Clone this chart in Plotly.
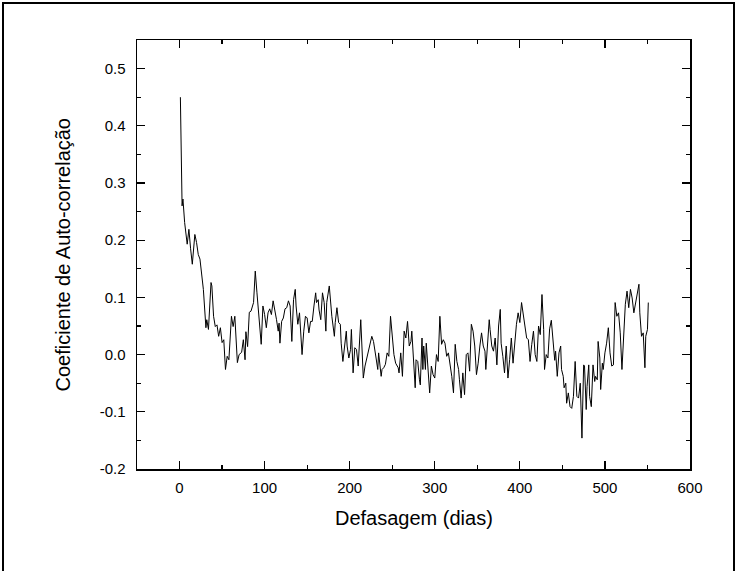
import plotly.graph_objects as go

# Lag (days) and autocorrelation coefficient
lag = [1, 2, 3, 4, 6, 9, 11, 13, 15, 18, 20, 22, 24, 28, 31, 32, 34, 37, 38, 40,
       42, 44, 46, 48, 50, 52, 54, 56, 58, 61, 63, 65, 68, 70, 73, 75, 77, 78, 80, 82,
       84, 87, 89, 91, 93, 96, 98, 100, 102, 104, 106, 108, 110, 112, 114, 116, 117, 118, 120, 122,
       124, 126, 128, 130, 132, 134, 136, 137, 139, 141, 143, 144, 146, 148, 150, 152, 154, 156, 158, 160,
       161, 163, 164, 166, 168, 170, 172, 173, 176, 178, 179, 182, 183, 185, 187, 189, 190, 192, 194, 196,
       197, 199, 201, 202, 204, 206, 208, 210, 213, 215, 216, 218, 220, 222, 224, 226, 228, 229, 231, 233,
       234, 237, 238, 240, 242, 244, 246, 248, 250, 252, 254, 257, 258, 260, 262, 264, 266, 268, 270, 272,
       273, 275, 277, 278, 280, 282, 283, 285, 286, 287, 289, 290, 292, 294, 296, 298, 300, 302, 304, 306,
       308, 310, 312, 314, 316, 318, 320, 322, 324, 326, 328, 329, 331, 333, 335, 337, 339, 341, 343, 345,
       347, 349, 351, 353, 355, 357, 359, 360, 362, 364, 365, 367, 369, 371, 373, 375, 377, 378, 380, 382,
       384, 385, 386, 388, 390, 392, 394, 396, 398, 400, 402, 404, 406, 408, 410, 412, 414, 416, 418, 420,
       422, 424, 426, 428, 429, 431, 433, 435, 437, 439, 441, 442, 444, 446, 448, 449, 451, 452, 454, 455,
       457, 459, 461, 463, 465, 467, 469, 471, 473, 475, 476, 478, 479, 481, 482, 484, 486, 488, 489, 491,
       492, 494, 495, 497, 498, 500, 502, 504, 506, 508, 510, 512, 514, 516, 518, 520, 522, 524, 526, 528,
       530, 532, 534, 536, 538, 540, 541, 543, 545, 547, 548, 550, 551]

acf = [0.450, 0.289, 0.260, 0.272, 0.231, 0.193, 0.219, 0.185, 0.158, 0.210, 0.196, 0.175, 0.167, 0.114, 0.047, 0.061, 0.044, 0.126, 0.120, 0.067,
       0.049, 0.052, 0.032, 0.047, 0.021, 0.026, -0.026, -0.003, -0.009, 0.067, 0.049, 0.067, -0.014, 0.000, 0.004, 0.026, -0.009, 0.040, 0.014, 0.074,
       0.076, 0.091, 0.146, 0.108, 0.070, 0.018, 0.085, 0.070, 0.047, 0.073, 0.080, 0.070, 0.094, 0.073, 0.061, 0.041, 0.055, 0.020, 0.058, 0.064,
       0.080, 0.082, 0.094, 0.085, 0.023, 0.096, 0.114, 0.085, 0.053, 0.073, 0.032, 0.000, 0.041, 0.067, 0.064, 0.038, 0.058, 0.058, 0.085, 0.108,
       0.091, 0.096, 0.078, 0.061, 0.108, 0.091, 0.041, 0.091, 0.120, 0.073, 0.067, 0.032, 0.056, 0.082, 0.056, 0.053, 0.020, -0.012, 0.015, 0.041,
       0.015, -0.006, 0.009, 0.044, -0.032, 0.012, 0.009, -0.020, 0.061, -0.003, -0.041, -0.020, -0.006, 0.003, 0.018, 0.032, 0.023, 0.015, -0.006, -0.026,
       0.003, -0.038, -0.026, -0.023, -0.017, 0.003, -0.003, 0.067, 0.038, 0.000, -0.015, -0.023, -0.032, 0.003, -0.038, 0.041, 0.029, 0.058, 0.015, 0.023,
       0.041, -0.015, -0.058, -0.009, -0.012, -0.044, -0.053, 0.029, -0.026, 0.015, -0.026, 0.020, -0.020, -0.067, -0.020, -0.035, -0.041, 0.000, -0.012, 0.067,
       0.018, 0.026, 0.020, -0.003, 0.003, -0.015, -0.038, -0.067, 0.018, -0.012, -0.026, -0.044, -0.076, -0.032, -0.070, 0.000, 0.003, -0.029, 0.053, 0.041,
       0.015, -0.035, -0.015, 0.015, 0.038, 0.015, 0.006, -0.026, 0.029, 0.061, 0.044, 0.015, 0.006, 0.029, -0.018, 0.050, 0.079, 0.020, -0.003, -0.032,
       0.015, -0.015, -0.041, -0.009, 0.029, -0.015, 0.026, 0.053, 0.073, 0.056, 0.091, 0.067, 0.053, 0.029, 0.026, -0.012, 0.018, 0.041, 0.000, -0.012,
       0.050, 0.035, 0.105, 0.044, -0.026, 0.000, -0.006, 0.045, 0.060, 0.020, -0.010, 0.006, -0.038, 0.003, 0.015, -0.026, -0.038, -0.058, -0.050, -0.085,
       -0.067, -0.091, -0.094, -0.073, -0.012, -0.073, -0.076, -0.050, -0.146, -0.018, -0.020, -0.096, -0.056, -0.018, -0.073, -0.091, -0.018, -0.047, -0.038, -0.044,
       0.023, -0.006, -0.061, -0.015, -0.026, 0.003, 0.020, 0.047, 0.003, -0.020, -0.018, 0.091, 0.067, 0.073, 0.038, -0.026, 0.032, 0.088, 0.111, 0.082,
       0.114, 0.099, 0.073, 0.091, 0.102, 0.123, 0.073, 0.032, 0.038, -0.023, 0.032, 0.044, 0.091]

x_ticks = [0, 100, 200, 300, 400, 500, 600]
y_ticks = [-0.2, -0.1, 0.0, 0.1, 0.2, 0.3, 0.4, 0.5]
y_ticklabels = ["-0.2", "-0.1", "0.0", "0.1", "0.2", "0.3", "0.4", "0.5"]

W, H = 737, 571
L, R, T, B = 137, 47, 40, 102
pw, ph = W - L - R, H - T - B
FONT = "Liberation Sans, Arial, sans-serif"

fig = go.Figure()
fig.add_trace(go.Scatter(x=lag, y=acf, mode="lines",
                         line=dict(color="black", width=1), showlegend=False))

axis_common = dict(showline=True, linecolor="black", linewidth=1.5, mirror="ticks",
                   ticks="inside", ticklen=8, tickwidth=1.2, tickcolor="black",
                   showgrid=False, zeroline=False,
                   tickfont=dict(family=FONT, size=15, color="black"))

fig.update_xaxes(range=[-50, 600], tickvals=x_ticks, ticklabelstandoff=4,
                 minor=dict(ticks="inside", ticklen=4, dtick=50, tick0=0,
                            tickcolor="black", tickwidth=1.2),
                 **axis_common)
fig.update_yaxes(range=[-0.2, 0.55], tickvals=y_ticks, ticktext=y_ticklabels,
                 ticklabelstandoff=7,
                 minor=dict(ticks="inside", ticklen=4, dtick=0.05, tick0=0,
                            tickcolor="black", tickwidth=1.2),
                 **axis_common)

def px_x(p):
    return (p - L) / pw

def px_y(p):
    return (H - B - p) / ph

fig.add_annotation(text="Defasagem (dias)", xref="paper", yref="paper",
                   x=0.5, y=px_y(518), xanchor="center", yanchor="middle",
                   showarrow=False,
                   font=dict(family=FONT, size=20, color="black"))
fig.add_annotation(text="Coeficiente de Auto-correlação", xref="paper", yref="paper",
                   x=px_x(62), y=0.5, xanchor="center", yanchor="middle",
                   textangle=-90, showarrow=False,
                   font=dict(family=FONT, size=20, color="black"))

# outer figure border (runs past the bottom edge of the picture)
fig.add_shape(type="rect", xref="paper", yref="paper",
              x0=px_x(3), x1=px_x(734), y0=px_y(600), y1=px_y(3),
              line=dict(color="black", width=2), layer="above")

fig.update_layout(width=W, height=H, margin=dict(l=L, r=R, t=T, b=B),
                  paper_bgcolor="white", plot_bgcolor="white")

fig.write_html("out.html",
               config={"displayModeBar": False, "staticPlot": True},
               post_script="document.body.style.margin='0';"
                           "document.body.style.padding='0';"
                           "document.body.style.overflow='hidden';")
